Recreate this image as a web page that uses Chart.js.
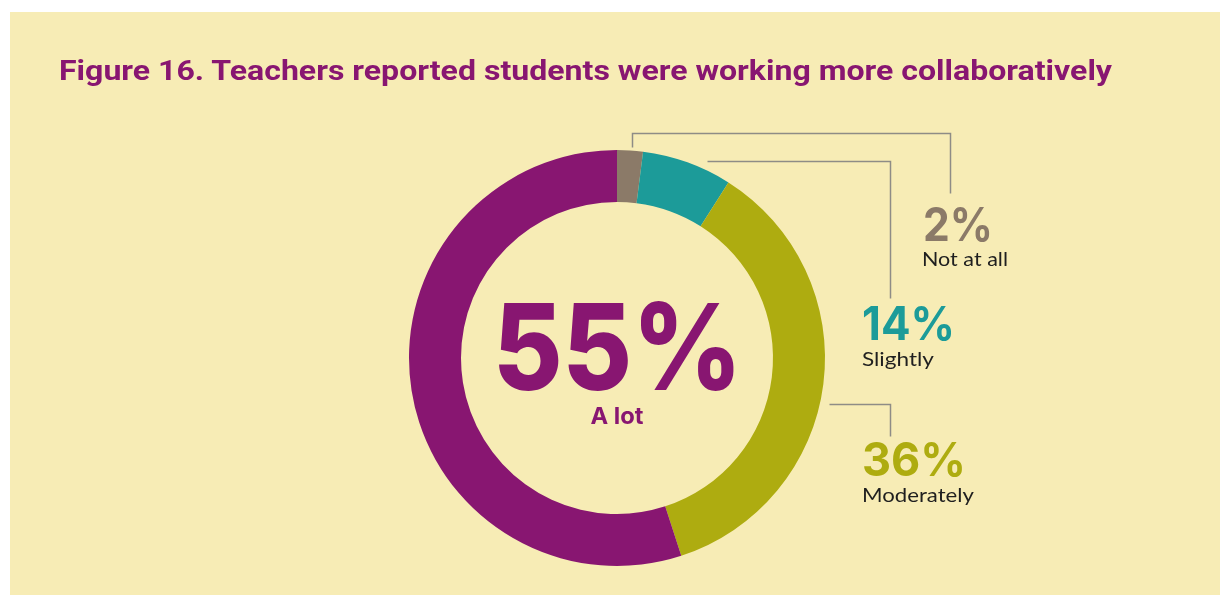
<!DOCTYPE html>
<html>
<head>
<meta charset="utf-8">
<script src="https://cdn.jsdelivr.net/npm/chart.js@4.4.1/dist/chart.umd.min.js"></script>
<style>
  html, body { margin: 0; padding: 0; background: #ffffff; }
  #wrap { position: relative; width: 1220px; height: 595px; overflow: hidden; }
  #panel { position: absolute; left: 10px; top: 12px; width: 1210px; height: 583px; background: #F7ECB5; }
  #chartBox { position: absolute; left: 0; top: 0; width: 1220px; height: 595px; }
  #labels { position: absolute; left: 0; top: 0; width: 1220px; height: 595px; pointer-events: none; }
</style>
</head>
<body>
<div id="wrap">
  <div id="panel"></div>
  <div id="chartBox"><canvas id="myChart"></canvas></div>
  <svg id="labels" width="1220" height="595"></svg>
</div>
<script>
// categories, clockwise from 12 o'clock
const categories = ["Not at all", "Slightly", "Moderately", "A lot"];
// share of the ring each arc covers, as drawn in the figure
const arcValues = [2, 7, 36, 55];
// percentages printed in the labels
const percentLabels = ["2%", "14%", "36%", "55%"];
const colors = ["#8B7A68", "#1C9B99", "#AEAC10", "#881671"];

const titleText = "Figure 16. Teachers reported students were working more collaboratively";

// leader lines, in units of the outer radius from the ring center
const leaders = [
  [[0.072, -1.015], [0.072, -1.082], [1.601, -1.082], [1.601, -0.793]],
  [[0.433, -0.947], [1.312, -0.947], [1.312, -0.288]],
  null,
  [[1.019, 0.221], [1.312, 0.221], [1.312, 0.375]]
];

const leaderPlugin = {
  id: "leaders",
  afterDatasetsDraw(chart) {
    const arc = chart.getDatasetMeta(0).data[0];
    if (!arc) return;
    const cx = arc.x, cy = arc.y, r = arc.outerRadius;
    const ctx = chart.ctx;
    ctx.save();
    ctx.strokeStyle = "#8E8C86";
    ctx.lineWidth = 1.5;
    leaders.forEach(function (pts) {
      if (!pts) return;
      ctx.beginPath();
      pts.forEach(function (p, i) {
        const x = Math.round(cx + p[0] * r) + 0.5;
        const y = Math.round(cy + p[1] * r) + 0.5;
        if (i === 0) ctx.moveTo(x, y); else ctx.lineTo(x, y);
      });
      ctx.stroke();
    });
    ctx.restore();
  }
};

new Chart("myChart", {
  type: "doughnut",
  data: {
    labels: categories,
    datasets: [{
      data: arcValues,
      backgroundColor: colors,
      borderWidth: 0,
      hoverOffset: 0
    }]
  },
  options: {
    responsive: true,
    maintainAspectRatio: false,
    animation: false,
    cutout: "75%",
    layout: { padding: { left: 409, top: 150, right: 395, bottom: 29 } },
    plugins: {
      legend: { display: false },
      tooltip: { enabled: false }
    }
  },
  plugins: [leaderPlugin]
});

// text layer
const svg = document.getElementById("labels");
const numFont = "Inter, Lato, 'Liberation Sans', sans-serif";
const lblFont = "Lato, 'Liberation Sans', sans-serif";
function addText(str, x, y, size, weight, color, anchor, len, family) {
  const t = document.createElementNS("http://www.w3.org/2000/svg", "text");
  t.setAttribute("x", x);
  t.setAttribute("y", y);
  t.setAttribute("font-size", size);
  t.setAttribute("font-weight", weight);
  t.setAttribute("fill", color);
  t.setAttribute("font-family", family || lblFont);
  t.setAttribute("text-anchor", anchor || "start");
  if (len) {
    t.setAttribute("textLength", len);
    t.setAttribute("lengthAdjust", "spacingAndGlyphs");
  }
  t.textContent = str;
  svg.appendChild(t);
}

addText(titleText, 59, 80, 27, 700, "#881671", "start", 1053, "Roboto, 'Liberation Sans', Arial, sans-serif");

// big center number
addText(percentLabels[3], 617.5, 390, 120, 800, colors[3], "middle", 249, numFont);
addText(categories[3], 617, 424, 23, 700, colors[3], "middle", 53, numFont);

// side labels
addText(percentLabels[0], 923, 241, 46, 700, colors[0], "start", 70, numFont);
addText(categories[0], 922, 266, 20, 400, "#1f1f1f", "start", 86);
addText(percentLabels[1], 862, 340, 46, 700, colors[1], "start", 93, numFont);
addText(categories[1], 862, 366, 20, 400, "#1f1f1f", "start", 72);
addText(percentLabels[2], 862, 476, 46, 700, colors[2], "start", 104, numFont);
addText(categories[2], 862, 502, 20, 400, "#1f1f1f", "start", 112);
</script>
</body>
</html>
